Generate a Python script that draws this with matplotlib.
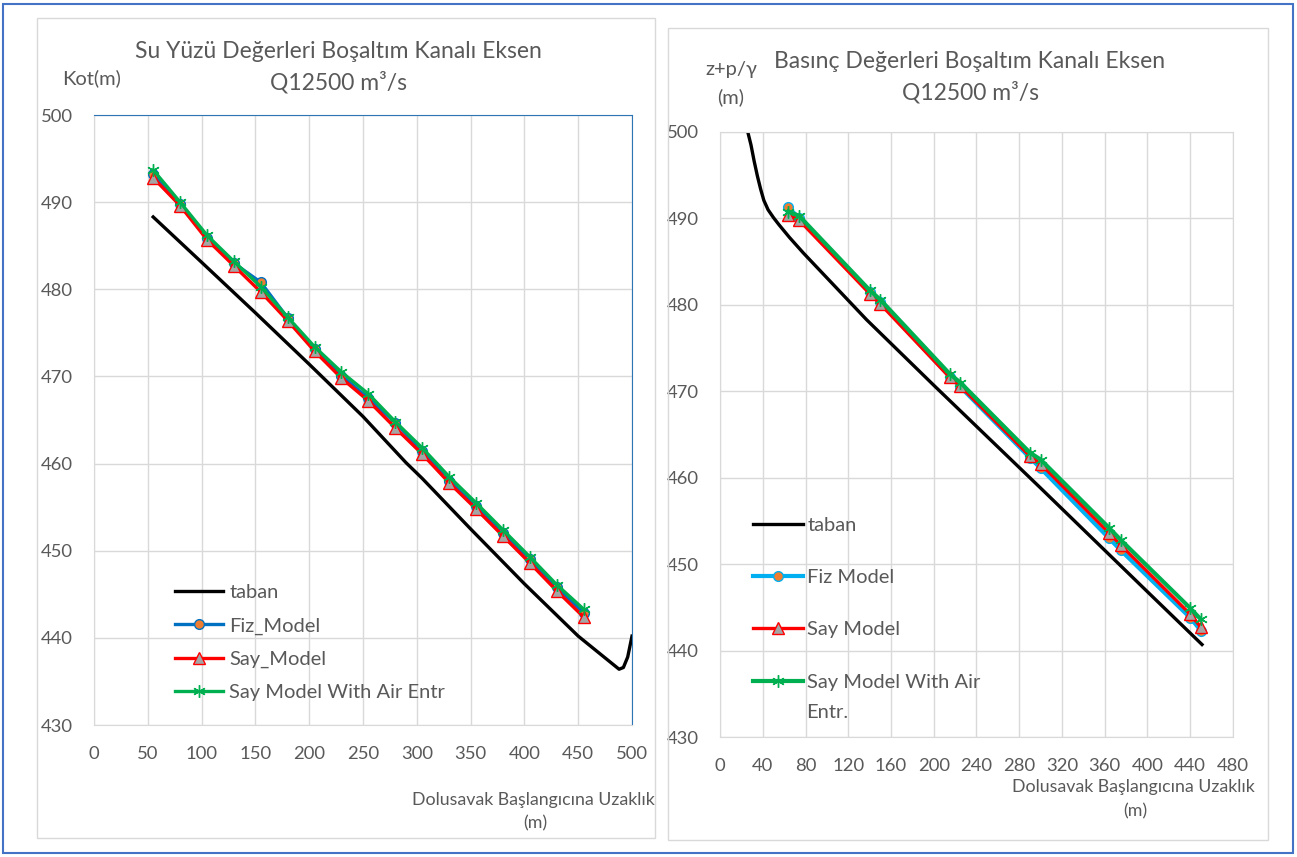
import matplotlib
matplotlib.use("Agg")
import matplotlib.pyplot as plt
from matplotlib.patches import Rectangle

plt.rcParams['font.family'] = ['Lato', 'DejaVu Sans']

# ---------------- data : left chart (Su Yuzu) ----------------
tabanX1 = [55, 100, 150, 200, 250, 290, 305, 350, 400, 450, 488, 492, 496, 500]
tabanY1 = [488.3, 483.1, 477.3, 471.4, 465.4, 460.1, 458.3, 452.5, 446.2, 440.2, 436.4, 436.6, 437.8, 440.2]

x1 = [55, 80, 105, 130, 155, 180, 205, 230, 255, 280, 305, 330, 355, 380, 405, 430, 455]
fiz1 = [493.2, 489.8, 485.9, 483.0, 480.8, 476.7, 473.1, 470.1, 467.5, 464.7, 461.4, 458.0, 455.1, 452.0, 449.0, 445.8, 442.9]
say1 = [492.8, 489.6, 485.7, 482.7, 479.7, 476.4, 472.9, 469.8, 467.2, 464.1, 461.1, 457.8, 454.8, 451.7, 448.6, 445.4, 442.4]
air1 = [493.7, 490.0, 486.2, 483.2, 480.3, 476.8, 473.4, 470.5, 468.0, 464.8, 461.8, 458.5, 455.5, 452.4, 449.3, 446.1, 443.3]

# ---------------- data : right chart (Basinc) ----------------
tabanX2 = [26, 29, 32, 35, 38, 41, 45, 50, 55, 65, 78, 137, 200, 300, 400, 451]
tabanY2 = [500, 498.5, 496.6, 494.9, 493.4, 492.1, 491.0, 490.1, 489.3, 487.8, 486.0, 478.3, 470.7, 458.8, 446.8, 440.7]

x2 = [64, 74, 140, 150, 215, 225, 290, 300, 364, 375, 440, 450]
fiz2 = [491.3, 490.0, 481.5, 480.3, 471.7, 470.5, 462.3, 461.1, 453.0, 451.6, 443.8, 442.3]
say2 = [490.4, 489.8, 481.3, 480.1, 471.6, 470.6, 462.5, 461.6, 453.6, 452.2, 444.2, 442.7]
air2 = [490.8, 490.3, 481.7, 480.6, 472.0, 471.0, 462.9, 462.1, 454.2, 452.8, 444.9, 443.6]

W = 1297; H = 857
grey = '#595959'; gridC = '#d9d9d9'

fig = plt.figure(figsize=[W/100, H/100], dpi=100)

def box(l, t, r, b):
    return [l/W, 1-b/H, (r-l)/W, (b-t)/H]

def ftext(x, y, s, size, ha='center'):
    fig.text(x/W, 1-y/H, s, fontsize=size, color=grey, ha=ha, va='center')

# frames
fig.patches.append(Rectangle((3/W, 4/H), (1293-3)/W, (853-4)/H, transform=fig.transFigure,
                             fill=False, edgecolor='#4472c4', linewidth=1.5))
fig.patches.append(Rectangle((37/W, 1-838/H), (655-37)/W, (838-18)/H, transform=fig.transFigure,
                             fill=False, edgecolor=gridC, linewidth=1))
fig.patches.append(Rectangle((668/W, 1-840/H), (1268-668)/W, (840-28)/H, transform=fig.transFigure,
                             fill=False, edgecolor=gridC, linewidth=1))

def styleAx(ax, xmax, xstep):
    ax.set_xlim(0, xmax); ax.set_ylim(430, 500)
    ax.set_xticks(range(0, xmax+1, xstep)); ax.set_yticks(range(430, 501, 10))
    ax.grid(True, color=gridC, linewidth=1)
    ax.set_axisbelow(True)
    ax.tick_params(length=0, labelsize=13.3, labelcolor=grey, pad=15)
    for s in ax.spines.values():
        s.set_color(gridC)

fontSize = 16.5; lineWidth = 2.4; legSize = 14.5

# ---------------- left ----------------
ax1 = fig.add_axes(box(94, 115, 632, 725))
styleAx(ax1, 500, 50)
ax1.spines['top'].set_color('#2e75b6'); ax1.spines['right'].set_color('#2e75b6')
ax1.plot(tabanX1, tabanY1, color='black', linewidth=lineWidth, label='taban')
ax1.plot(x1, fiz1, color='#0070c0', linewidth=lineWidth, marker='o', ms=7,
         mfc='#ed7d31', mec='#0070c0', label='Fiz_Model')
ax1.plot(x1, say1, color='#ff0000', linewidth=lineWidth, marker='^', ms=8,
         mfc='#a5a5a5', mec='#ff0000', label='Say_Model')
ax1.plot(x1, air1, color='#00b050', linewidth=lineWidth, marker=(6, 2, 0), ms=9,
         mec='#00b050', label='Say Model With Air Entr')
ax1.legend(loc='upper left', bbox_to_anchor=((167-94)/538, (725-576)/610), frameon=False,
           fontsize=legSize, labelcolor=grey, handlelength=2.4, handletextpad=0.3,
           labelspacing=0.8, borderaxespad=0)

ftext(338, 52, 'Su Yüzü Değerleri Boşaltım Kanalı Eksen', fontSize)
ftext(338, 82, 'Q12500 m³/s', fontSize)
ftext(92, 78, 'Kot(m)', 14.5)
ftext(533, 800, 'Dolusavak Başlangıcına Uzaklık', 12.8)
ftext(535, 823, '(m)', 12.8)

# ---------------- right ----------------
ax2 = fig.add_axes(box(720, 132, 1233, 737))
styleAx(ax2, 480, 40)
ax2.plot(tabanX2, tabanY2, color='black', linewidth=lineWidth, label='taban')
ax2.plot(x2, fiz2, color='#00b0f0', linewidth=lineWidth+0.6, marker='o', ms=7,
         mfc='#ed7d31', mec='#00b0f0', label='Fiz Model')
ax2.plot(x2, say2, color='#ff0000', linewidth=lineWidth, marker='^', ms=8,
         mfc='#a5a5a5', mec='#ff0000', label='Say Model')
ax2.plot(x2, air2, color='#00b050', linewidth=lineWidth+0.6, marker=(6, 2, 0), ms=9,
         mec='#00b050', label='Say Model With Air')
ax2.legend(loc='upper left', bbox_to_anchor=((745-720)/513, (737-509)/605), frameon=False,
           fontsize=legSize, labelcolor=grey, handlelength=2.5, handletextpad=0.2,
           labelspacing=1.74, borderaxespad=0)
ftext(806, 712, 'Entr.', legSize, ha='left')

ftext(970, 62, 'Basınç Değerleri Boşaltım Kanalı Eksen', fontSize)
ftext(970, 92, 'Q12500 m³/s', fontSize)
ftext(731, 70, 'z+p/γ', 14.5)
ftext(731, 97, '(m)', 14.5)
ftext(1133, 787, 'Dolusavak Başlangıcına Uzaklık', 12.8)
ftext(1135, 811, '(m)', 12.8)

fig.savefig('out.png', dpi=100)
